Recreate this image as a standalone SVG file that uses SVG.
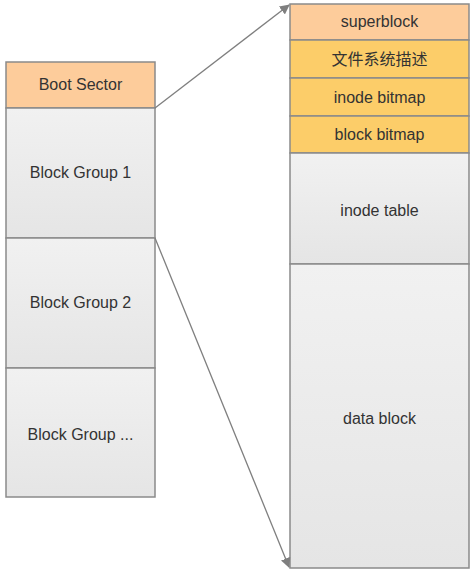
<svg xmlns="http://www.w3.org/2000/svg" width="473" height="572" viewBox="0 0 473 572">
<style>
.box{stroke:#8a8a8a;stroke-width:1.5}
.peach{fill:#fdcc9b}
.gold{fill:#fccd69}
.gray{fill:url(#g)}
text{font-family:"Liberation Sans","Noto Sans CJK SC",sans-serif;font-size:16px;fill:#333;text-anchor:middle;dominant-baseline:central}
.conn{stroke:#7f7f7f;stroke-width:1.3;fill:none}
</style>
<defs>
<linearGradient id="g" x1="0" y1="0" x2="0" y2="1">
<stop offset="0" stop-color="#f1f1f1"/>
<stop offset="1" stop-color="#e5e5e5"/>
</linearGradient>
<marker id="ah" markerWidth="10" markerHeight="10" refX="9" refY="5" orient="auto" markerUnits="userSpaceOnUse">
<path d="M0,0 L10,5 L0,10 Z" fill="#7f7f7f"/>
</marker>
</defs>
<rect width="473" height="572" fill="#fff"/>
<g id="boot"><rect class="box peach" x="6" y="62" width="149" height="46"/><text x="80.5" y="84">Boot Sector</text></g>
<g id="bg1"><rect class="box gray" x="6" y="108" width="149" height="130"/><text x="80.5" y="172">Block Group 1</text></g>
<g id="bg2"><rect class="box gray" x="6" y="238" width="149" height="130"/><text x="80.5" y="302">Block Group 2</text></g>
<g id="bgn"><rect class="box gray" x="6" y="368" width="149" height="129"/><text x="80.5" y="434">Block Group ...</text></g>
<g id="superblock"><rect class="box peach" x="290" y="4" width="179" height="36"/><text x="379.5" y="21">superblock</text></g>
<g id="fsdesc"><rect class="box gold" x="290" y="40" width="179" height="38"/><text x="379.5" y="59">文件系统描述</text></g>
<g id="inodebitmap"><rect class="box gold" x="290" y="78" width="179" height="38"/><text x="379.5" y="97">inode bitmap</text></g>
<g id="blockbitmap"><rect class="box gold" x="290" y="116" width="179" height="37"/><text x="379.5" y="134">block bitmap</text></g>
<g id="inodetable"><rect class="box gray" x="290" y="153" width="179" height="111"/><text x="379.5" y="210">inode table</text></g>
<g id="datablock"><rect class="box gray" x="290" y="264" width="179" height="304"/><text x="379.5" y="418">data block</text></g>
<g id="connectors">
<line class="conn" x1="155" y1="108" x2="289" y2="5" marker-end="url(#ah)"/>
<line class="conn" x1="155" y1="238" x2="289" y2="567" marker-end="url(#ah)"/>
</g>
</svg>
